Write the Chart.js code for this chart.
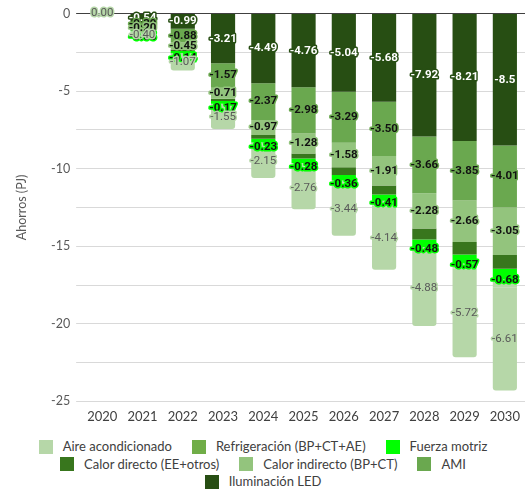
<!DOCTYPE html>
<html lang="es">
  <head>
    <meta charset="UTF-8" />
    <title>Ahorros (PJ)</title>
    <script src="https://cdn.jsdelivr.net/npm/chart.js"></script>
    <style>
      body {
        margin: 0;
        background: #fff;
        font-family: Lato, 'Open Sans', sans-serif;
      }
      .wrap {
        width: 526px;
        height: 427px;
      }
      #legend {
        width: 484px;
        margin: 11px auto 0;
        display: flex;
        flex-wrap: wrap;
        justify-content: center;
        font-size: 13px;
        color: #404040;
        line-height: 17.5px;
      }
      .item {
        display: flex;
        align-items: center;
        margin: 0 10px;
        white-space: nowrap;
      }
      .box {
        width: 14px;
        height: 14px;
        margin-right: 10px;
      }
    </style>
  </head>
  <body>
    <div class="wrap"><canvas id="chart"></canvas></div>
    <div id="legend"></div>

    <script>
      // datos (PJ)
      const years = ['2020', '2021', '2022', '2023', '2024', '2025', '2026', '2027', '2028', '2029', '2030']
      const iluminacionLED = ['0.00', '-0.54', '-0.99', '-3.21', '-4.49', '-4.76', '-5.04', '-5.68', '-7.92', '-8.21', '-8.5']
      const ami = ['0.00', '-0.30', '-0.88', '-1.57', '-2.37', '-2.98', '-3.29', '-3.50', '-3.66', '-3.85', '-4.01']
      const calorIndirecto = ['0.00', '-0.20', '-0.45', '-0.71', '-0.97', '-1.28', '-1.58', '-1.91', '-2.28', '-2.66', '-3.05']
      const calorDirecto = ['0.00', '-0.05', '-0.10', '-0.15', '-0.25', '-0.33', '-0.50', '-0.57', '-0.71', '-0.82', '-0.89']
      const fuerzaMotriz = ['0.00', '-0.05', '-0.14', '-0.17', '-0.23', '-0.28', '-0.36', '-0.41', '-0.48', '-0.57', '-0.68']
      const refrigeracion = ['0.00', '-0.03', '-0.05', '-0.09', '-0.14', '-0.22', '-0.11', '-0.31', '-0.21', '-0.32', '-0.55']
      const aireAcondicionado = ['0.00', '-0.40', '-1.07', '-1.55', '-2.15', '-2.76', '-3.44', '-4.14', '-4.88', '-5.72', '-6.61']

      const FONT = 'Lato, "Open Sans", sans-serif'

      // etiquetas dentro de cada segmento (texto con contorno del color de la barra)
      const segmentLabels = {
        id: 'segmentLabels',
        afterDatasetsDraw(chart) {
          const ctx = chart.ctx
          chart.data.datasets.forEach((ds, i) => {
            if (!ds.labelColor) return
            const meta = chart.getDatasetMeta(i)
            meta.data.forEach((bar, j) => {
              const raw = ds.data[j]
              if (parseFloat(raw) === 0 && !ds.showZero) return
              const y = (bar.y + bar.base) / 2 + (ds.labelShift || 0)
              ctx.save()
              ctx.font = ds.labelFont
              ctx.textAlign = 'center'
              ctx.textBaseline = 'middle'
              ctx.lineJoin = 'round'
              ctx.lineWidth = 3
              ctx.strokeStyle = ds.backgroundColor
              ctx.strokeText(raw, bar.x, y)
              ctx.fillStyle = ds.labelColor
              ctx.fillText(raw, bar.x, y)
              ctx.restore()
            })
          })
        },
      }

      const bold = 'bold 11.5px Roboto, sans-serif'

      const chart = new Chart(document.getElementById('chart'), {
        type: 'bar',
        data: {
          labels: years,
          datasets: [
            { label: 'Iluminación LED', data: iluminacionLED, backgroundColor: '#274e13', labelColor: '#ffffff', labelFont: bold },
            { label: 'AMI', data: ami, backgroundColor: '#6aa84f', labelColor: '#111111', labelFont: bold },
            { label: 'Calor indirecto (BP+CT)', data: calorIndirecto, backgroundColor: '#93c47d', labelColor: '#111111', labelFont: bold },
            { label: 'Calor directo (EE+otros)', data: calorDirecto, backgroundColor: '#38761d' },
            { label: 'Fuerza motriz', data: fuerzaMotriz, backgroundColor: '#00ff00', labelColor: '#111111', labelFont: bold, labelShift: 6 },
            { label: 'Refrigeración (BP+CT+AE)', data: refrigeracion, backgroundColor: '#b6d7a8', legendColor: '#70ad47' },
            {
              label: 'Aire acondicionado',
              data: aireAcondicionado,
              backgroundColor: '#b6d7a8',
              labelColor: '#595959',
              labelFont: '11.5px Roboto, sans-serif',
              showZero: true,
              borderRadius: 3,
            },
          ],
        },
        options: {
          responsive: true,
          maintainAspectRatio: false,
          animation: false,
          layout: { padding: { top: 4, right: 1, left: 14, bottom: 2 } },
          datasets: { bar: { categoryPercentage: 1, barPercentage: 0.6 } },
          scales: {
            x: {
              stacked: true,
              grid: { display: false },
              border: { display: false },
              ticks: { color: '#404040', font: { family: FONT, size: 13 }, padding: 0 },
            },
            y: {
              stacked: true,
              min: -25,
              max: 0,
              border: { display: false },
              grid: {
                color: (c) => (c.tick && c.tick.value === 0 ? '#404040' : '#d9d9d9'),
                tickLength: 6,
              },
              ticks: {
                stepSize: 2.5,
                color: '#595959',
                font: { family: FONT, size: 12.5 },
                padding: 6,
                callback: (v) => (v % 5 === 0 ? v : ''),
              },
              title: {
                display: true,
                text: 'Ahorros (PJ)',
                color: '#595959',
                font: { family: FONT, size: 12.5 },
                padding: { top: 0, bottom: 16 },
              },
            },
          },
          plugins: {
            tooltip: { enabled: false },
            legend: { display: false },
          },
        },
        plugins: [segmentLabels],
      })

      // leyenda en HTML, en el orden inverso de las series
      const legend = document.getElementById('legend')
      chart.data.datasets
        .slice()
        .reverse()
        .forEach((ds) => {
          const item = document.createElement('div')
          item.className = 'item'
          const box = document.createElement('span')
          box.className = 'box'
          box.style.background = ds.legendColor || ds.backgroundColor
          item.appendChild(box)
          item.appendChild(document.createTextNode(ds.label))
          legend.appendChild(item)
        })
    </script>
  </body>
</html>
